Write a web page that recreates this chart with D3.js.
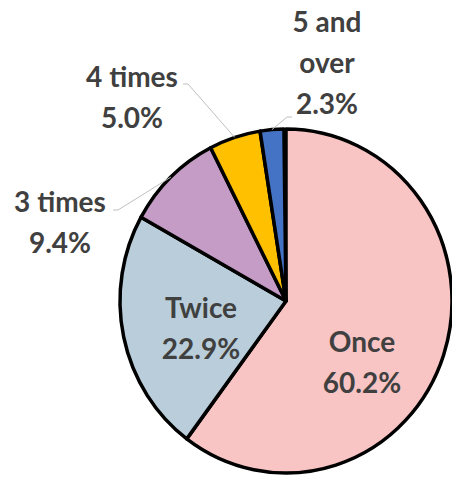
<!DOCTYPE html>
<html>
<head>
<meta charset="utf-8">
<script src="https://cdn.jsdelivr.net/npm/d3@7"></script>
<style>
  html, body { margin: 0; padding: 0; background: #ffffff; }
  svg { display: block; }
  text { font-family: Lato, "Open Sans", sans-serif; font-weight: 700; fill: #404040; }
</style>
</head>
<body>
<div id="chart"></div>
<script>
// Share of visits by frequency
const categories = ["Once", "Twice", "3 times", "4 times", "5 and over"];
const shares = [60.2, 22.9, 9.4, 5.0, 2.3];
const colors = ["#F8C4C4", "#B9CEDA", "#C49CC6", "#FFC000", "#4472C4"];
// Label text lines (category name may wrap)
const labelLines = [["Once"], ["Twice"], ["3 times"], ["4 times"], ["5 and", "over"]];

const W = 452, H = 478;
const cx = 286, cy = 301, rx = 166, ry = 172;
const yScale = ry / rx;

// Label anchor (centre of first line) and leader-line elbow per slice
const labelLayout = [
  { x: 362, y: 342, leader: null },
  { x: 201, y: 308, leader: null },
  { x: 60,  y: 202, leader: { x0: 113, x1: 118, y: 210 } },
  { x: 132, y: 77,  leader: { x0: 183, x1: 188, y: 84 } },
  { x: 327, y: 22,  leader: { x0: 292, x1: 287, y: 117 } }
];
const lineGap = 41;

const svg = d3.select("#chart").append("svg")
  .attr("width", W).attr("height", H);

const data = categories.map((c, i) => ({ name: c, value: shares[i], color: colors[i], lines: labelLines[i] }));

const pie = d3.pie().value(d => d.value).sort(null)
  .startAngle(0).endAngle(2 * Math.PI * d3.sum(shares) / 100);
const arcs = pie(data);
const arc = d3.arc().innerRadius(0).outerRadius(rx);

const g = svg.append("g")
  .attr("transform", `translate(${cx},${cy}) scale(1,${yScale})`);

g.selectAll("path")
  .data(arcs)
  .join("path")
  .attr("d", arc)
  .attr("fill", d => d.data.color)
  .attr("stroke", "#000")
  .attr("stroke-width", 3.5)
  .attr("stroke-linejoin", "round")
  .attr("vector-effect", "non-scaling-stroke");

// Leader lines from label to the slice's outer edge
arcs.forEach((a, i) => {
  const L = labelLayout[i].leader;
  if (!L) return;
  const mid = (a.startAngle + a.endAngle) / 2;
  const ex = cx + rx * Math.sin(mid);
  const ey = cy - ry * Math.cos(mid);
  svg.append("polyline")
    .attr("points", `${L.x0},${L.y} ${L.x1},${L.y} ${ex},${ey}`)
    .attr("fill", "none")
    .attr("stroke", "#BFBFBF")
    .attr("stroke-width", 1);
});

// Labels: category name(s) and percentage
arcs.forEach((a, i) => {
  const pos = labelLayout[i];
  const lines = a.data.lines.concat([d3.format(".1f")(a.data.value) + "%"]);
  const t = svg.append("text")
    .attr("text-anchor", "middle")
    .attr("font-size", 28);
  lines.forEach((s, k) => {
    t.append("tspan")
      .attr("x", pos.x)
      .attr("y", pos.y + k * lineGap)
      .attr("dy", "0.35em")
      .text(s);
  });
});
</script>
</body>
</html>
